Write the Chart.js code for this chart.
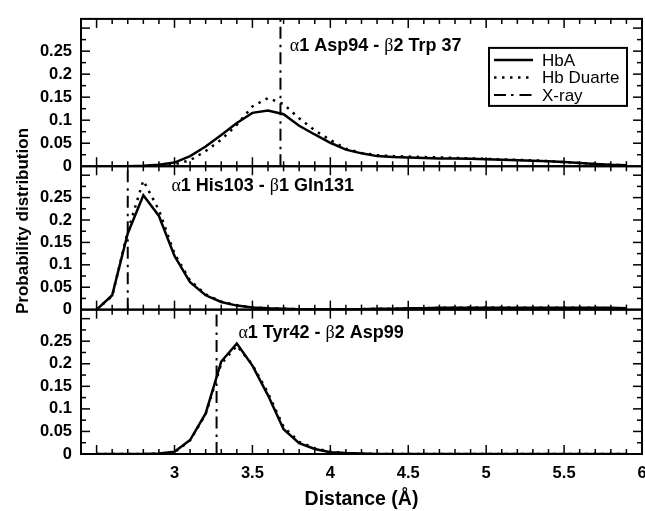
<!DOCTYPE html>
<html>
<head>
<meta charset="utf-8">
<script src="https://cdn.jsdelivr.net/npm/chart.js@4.4.0/dist/chart.umd.min.js"></script>
<style>
  html, body { margin: 0; padding: 0; background: #fff; overflow: hidden; }
  #wrap { position: relative; width: 660px; height: 511px; }
</style>
</head>
<body>
<div id="wrap"><canvas id="chart" width="660" height="511"></canvas></div>
<script>
// distances (Å) sampled every 0.1
const distances = [2.5, 2.6, 2.7, 2.8, 2.9, 3.0, 3.1, 3.2, 3.3, 3.4, 3.5, 3.6, 3.7, 3.8, 3.9, 4.0, 4.1, 4.2,
                   4.3, 4.4, 4.5, 4.6, 4.7, 4.8, 4.9, 5.0, 5.1, 5.2, 5.3, 5.4, 5.5, 5.6, 5.7, 5.8, 5.9];

// panel 1: a1 Asp94 - b2 Trp 37
const asp94HbA = [0, 0, 0, 0.001, 0.003, 0.008, 0.022, 0.043, 0.068, 0.094, 0.116, 0.121, 0.113, 0.088, 0.069, 0.051, 0.036, 0.028,
                  0.022, 0.020, 0.019, 0.018, 0.017, 0.017, 0.016, 0.015, 0.014, 0.013, 0.012, 0.011, 0.009, 0.007, 0.005, 0.003, 0.002];
const asp94Duarte = [0, 0, 0, 0, 0.001, 0.004, 0.013, 0.033, 0.058, 0.090, 0.130, 0.148, 0.135, 0.104, 0.078, 0.057, 0.038, 0.029,
                     0.024, 0.022, 0.021, 0.020, 0.019, 0.018, 0.017, 0.016, 0.015, 0.014, 0.013, 0.011, 0.009, 0.007, 0.005, 0.003, 0.002];

// panel 2: a1 His103 - b1 Gln131
const his103HbA = [0, 0.032, 0.170, 0.255, 0.209, 0.120, 0.061, 0.032, 0.017, 0.009, 0.005, 0.003, 0.002, 0.001, 0.001, 0.001, 0.001, 0.001,
                   0.002, 0.002, 0.003, 0.003, 0.004, 0.004, 0.004, 0.004, 0.004, 0.004, 0.004, 0.004, 0.004, 0.004, 0.004, 0.004, 0.003];
const his103Duarte = [0, 0.030, 0.175, 0.288, 0.222, 0.125, 0.065, 0.034, 0.018, 0.010, 0.005, 0.003, 0.002, 0.001, 0.001, 0.001, 0.001, 0.001,
                      0.002, 0.002, 0.003, 0.003, 0.004, 0.004, 0.005, 0.005, 0.005, 0.004, 0.004, 0.004, 0.004, 0.004, 0.004, 0.003, 0.003];

// panel 3: a1 Tyr42 - b2 Asp99
const tyr42HbA = [0, 0, 0, 0, 0.001, 0.005, 0.031, 0.090, 0.205, 0.245, 0.196, 0.130, 0.055, 0.024, 0.011, 0.004, 0.002, 0.001,
                  0, 0, 0, 0, 0, 0, 0, 0, 0, 0, 0, 0, 0, 0, 0, 0, 0];
const tyr42Duarte = [0, 0, 0, 0, 0.001, 0.004, 0.030, 0.088, 0.200, 0.240, 0.198, 0.135, 0.060, 0.027, 0.013, 0.005, 0.002, 0.001,
                     0, 0, 0, 0, 0, 0, 0, 0, 0, 0, 0, 0, 0, 0, 0, 0, 0];

// X-ray distances, one per panel
const xrayDistances = [3.68, 2.70, 3.27];

const panelLabels = ['α1 Asp94 - β2 Trp 37', 'α1 His103 - β1 Gln131', 'α1 Tyr42 - β2 Asp99'];
const labelAnchorX = [3.74, 2.98, 3.41];
const labelAnchorY = [0.26, 0.276, 0.268];

const seriesNames = ['HbA', 'Hb Duarte', 'X-ray'];
const xTickValues = [3, 3.5, 4, 4.5, 5, 5.5, 6];
const yTickValues = [0, 0.05, 0.1, 0.15, 0.2, 0.25];
const yMax = 0.32;

const hbaSeries = [asp94HbA, his103HbA, tyr42HbA];
const duarteSeries = [asp94Duarte, his103Duarte, tyr42Duarte];
const panelAxes = ['yA', 'yB', 'yC'];
const panelWeights = [149, 145, 146];

const SANS = '"Liberation Sans", Arial, Helvetica, sans-serif';
Chart.defaults.font.family = SANS;
Chart.defaults.color = '#000';

const solidStyle = { borderColor: '#000', borderWidth: 2.5, borderDash: [] };
const dotStyle = { borderColor: '#000', borderWidth: 2.5, borderDash: [2.5, 5.5] };
const xrayStyle = { borderColor: '#000', borderWidth: 2, borderDash: [12, 5, 2.5, 6] };

const datasets = [];
panelAxes.forEach((axisId, p) => {
    datasets.push(Object.assign({
        label: seriesNames[0],
        yAxisID: axisId,
        data: distances.map((d, i) => ({ x: d, y: hbaSeries[p][i] }))
    }, solidStyle));
    datasets.push(Object.assign({
        label: seriesNames[1],
        yAxisID: axisId,
        data: distances.map((d, i) => ({ x: d, y: duarteSeries[p][i] }))
    }, dotStyle));
    datasets.push(Object.assign({
        label: seriesNames[2],
        yAxisID: axisId,
        data: [{ x: xrayDistances[p], y: 0 }, { x: xrayDistances[p], y: yMax }]
    }, xrayStyle));
});
datasets.forEach(ds => { ds.pointRadius = 0; ds.tension = 0; ds.fill = false; ds.borderCapStyle = 'butt'; });

function yAxis(p) {
    return {
        type: 'linear',
        position: 'left',
        stack: 'panels',
        stackWeight: panelWeights[p],
        min: 0,
        max: yMax,
        grid: { display: false, drawTicks: false },
        border: { display: false },
        afterFit: s => { s.width = 81; },
        afterBuildTicks: s => { s.ticks = yTickValues.map(v => ({ value: v })); },
        ticks: {
            padding: 9,
            autoSkip: false,
            font: { size: 16.5, weight: 'bold' },
            callback: v => String(Math.round(v * 100) / 100)
        }
    };
}

function drawRich(ctx, text, x, y) {
    let cx = x;
    text.split(/([αβ])/).forEach(part => {
        if (!part) return;
        ctx.font = /[αβ]/.test(part) ? '18px "Liberation Serif", serif' : 'bold 18px ' + SANS;
        ctx.fillText(part, cx, y);
        cx += ctx.measureText(part).width;
    });
}

function tick(ctx, x1, y1, x2, y2) {
    ctx.beginPath();
    ctx.moveTo(x1, y1);
    ctx.lineTo(x2, y2);
    ctx.stroke();
}

const decorations = {
    id: 'decorations',
    afterDraw(chart) {
        const ctx = chart.ctx;
        const xs = chart.scales.x;
        const area = chart.chartArea;
        ctx.save();
        ctx.setLineDash([]);
        ctx.lineCap = 'butt';
        ctx.globalAlpha = 1;
        ctx.strokeStyle = '#000';
        ctx.fillStyle = '#000';
        panelAxes.forEach((id, p) => {
            const ys = chart.scales[id];
            const top = ys.top, bottom = ys.bottom;
            ctx.lineWidth = 1.5;
            for (let i = 25; i < 60; i++) {
                const px = xs.getPixelForValue(i / 10);
                const len = i % 5 === 0 ? 9 : 5;
                tick(ctx, px, bottom, px, bottom - len);
                tick(ctx, px, top, px, top + len);
            }
            for (let j = 1; j <= 12; j++) {
                const py = ys.getPixelForValue(j * 0.025);
                const len = j % 2 === 0 ? 9 : 5;
                tick(ctx, area.left, py, area.left + len, py);
                tick(ctx, area.right, py, area.right - len, py);
            }
            ctx.lineWidth = 2;
            ctx.strokeRect(area.left, top, area.right - area.left, bottom - top);

            ctx.textBaseline = 'middle';
            ctx.textAlign = 'left';
            drawRich(ctx, panelLabels[p], xs.getPixelForValue(labelAnchorX[p]), ys.getPixelForValue(labelAnchorY[p]));
        });

        // legend
        const lx = area.right - 153, ly = area.top + 29;
        ctx.lineWidth = 2;
        ctx.fillStyle = '#fff';
        ctx.fillRect(lx, ly, 138, 58);
        ctx.strokeRect(lx, ly, 138, 58);
        ctx.fillStyle = '#000';
        ctx.font = '17px ' + SANS;
        ctx.textBaseline = 'middle';
        ctx.textAlign = 'left';
        const rows = [ly + 12, ly + 29.5, ly + 47];
        seriesNames.forEach((name, k) => {
            const ds = chart.data.datasets[k];
            ctx.lineWidth = ds.borderWidth;
            ctx.setLineDash(ds.borderDash);
            tick(ctx, lx + 5, rows[k], lx + 44, rows[k]);
            ctx.fillText(name, lx + 53, rows[k] + 1);
        });
        ctx.setLineDash([]);

        // y title
        ctx.translate(23, 221);
        ctx.rotate(-Math.PI / 2);
        ctx.textAlign = 'center';
        ctx.font = 'bold 17px ' + SANS;
        ctx.fillText('Probability distribution', 0, 0);
        ctx.restore();
    }
};

new Chart(document.getElementById('chart'), {
    type: 'line',
    data: { datasets },
    plugins: [decorations],
    options: {
        responsive: false,
        animation: false,
        devicePixelRatio: 1,
        layout: { padding: { top: 14, right: 18, left: 0, bottom: 0 } },
        plugins: { legend: { display: false }, tooltip: { enabled: false } },
        scales: {
            x: {
                type: 'linear',
                position: 'bottom',
                min: 2.4,
                max: 6,
                grid: { display: false, drawTicks: false },
                border: { display: false },
                afterFit: s => { s.height = 57; },
                afterBuildTicks: s => { s.ticks = xTickValues.map(v => ({ value: v })); },
                ticks: {
                    padding: 10,
                    autoSkip: false,
                    maxRotation: 0,
                    font: { size: 16.5, weight: 'bold' },
                    callback: v => String(v)
                },
                title: {
                    display: true,
                    text: 'Distance (Å)',
                    font: { size: 19.5, weight: 'bold' },
                    padding: { top: 0, bottom: 0 }
                }
            },
            yC: yAxis(2),
            yB: yAxis(1),
            yA: yAxis(0)
        }
    }
});
</script>
</body>
</html>
